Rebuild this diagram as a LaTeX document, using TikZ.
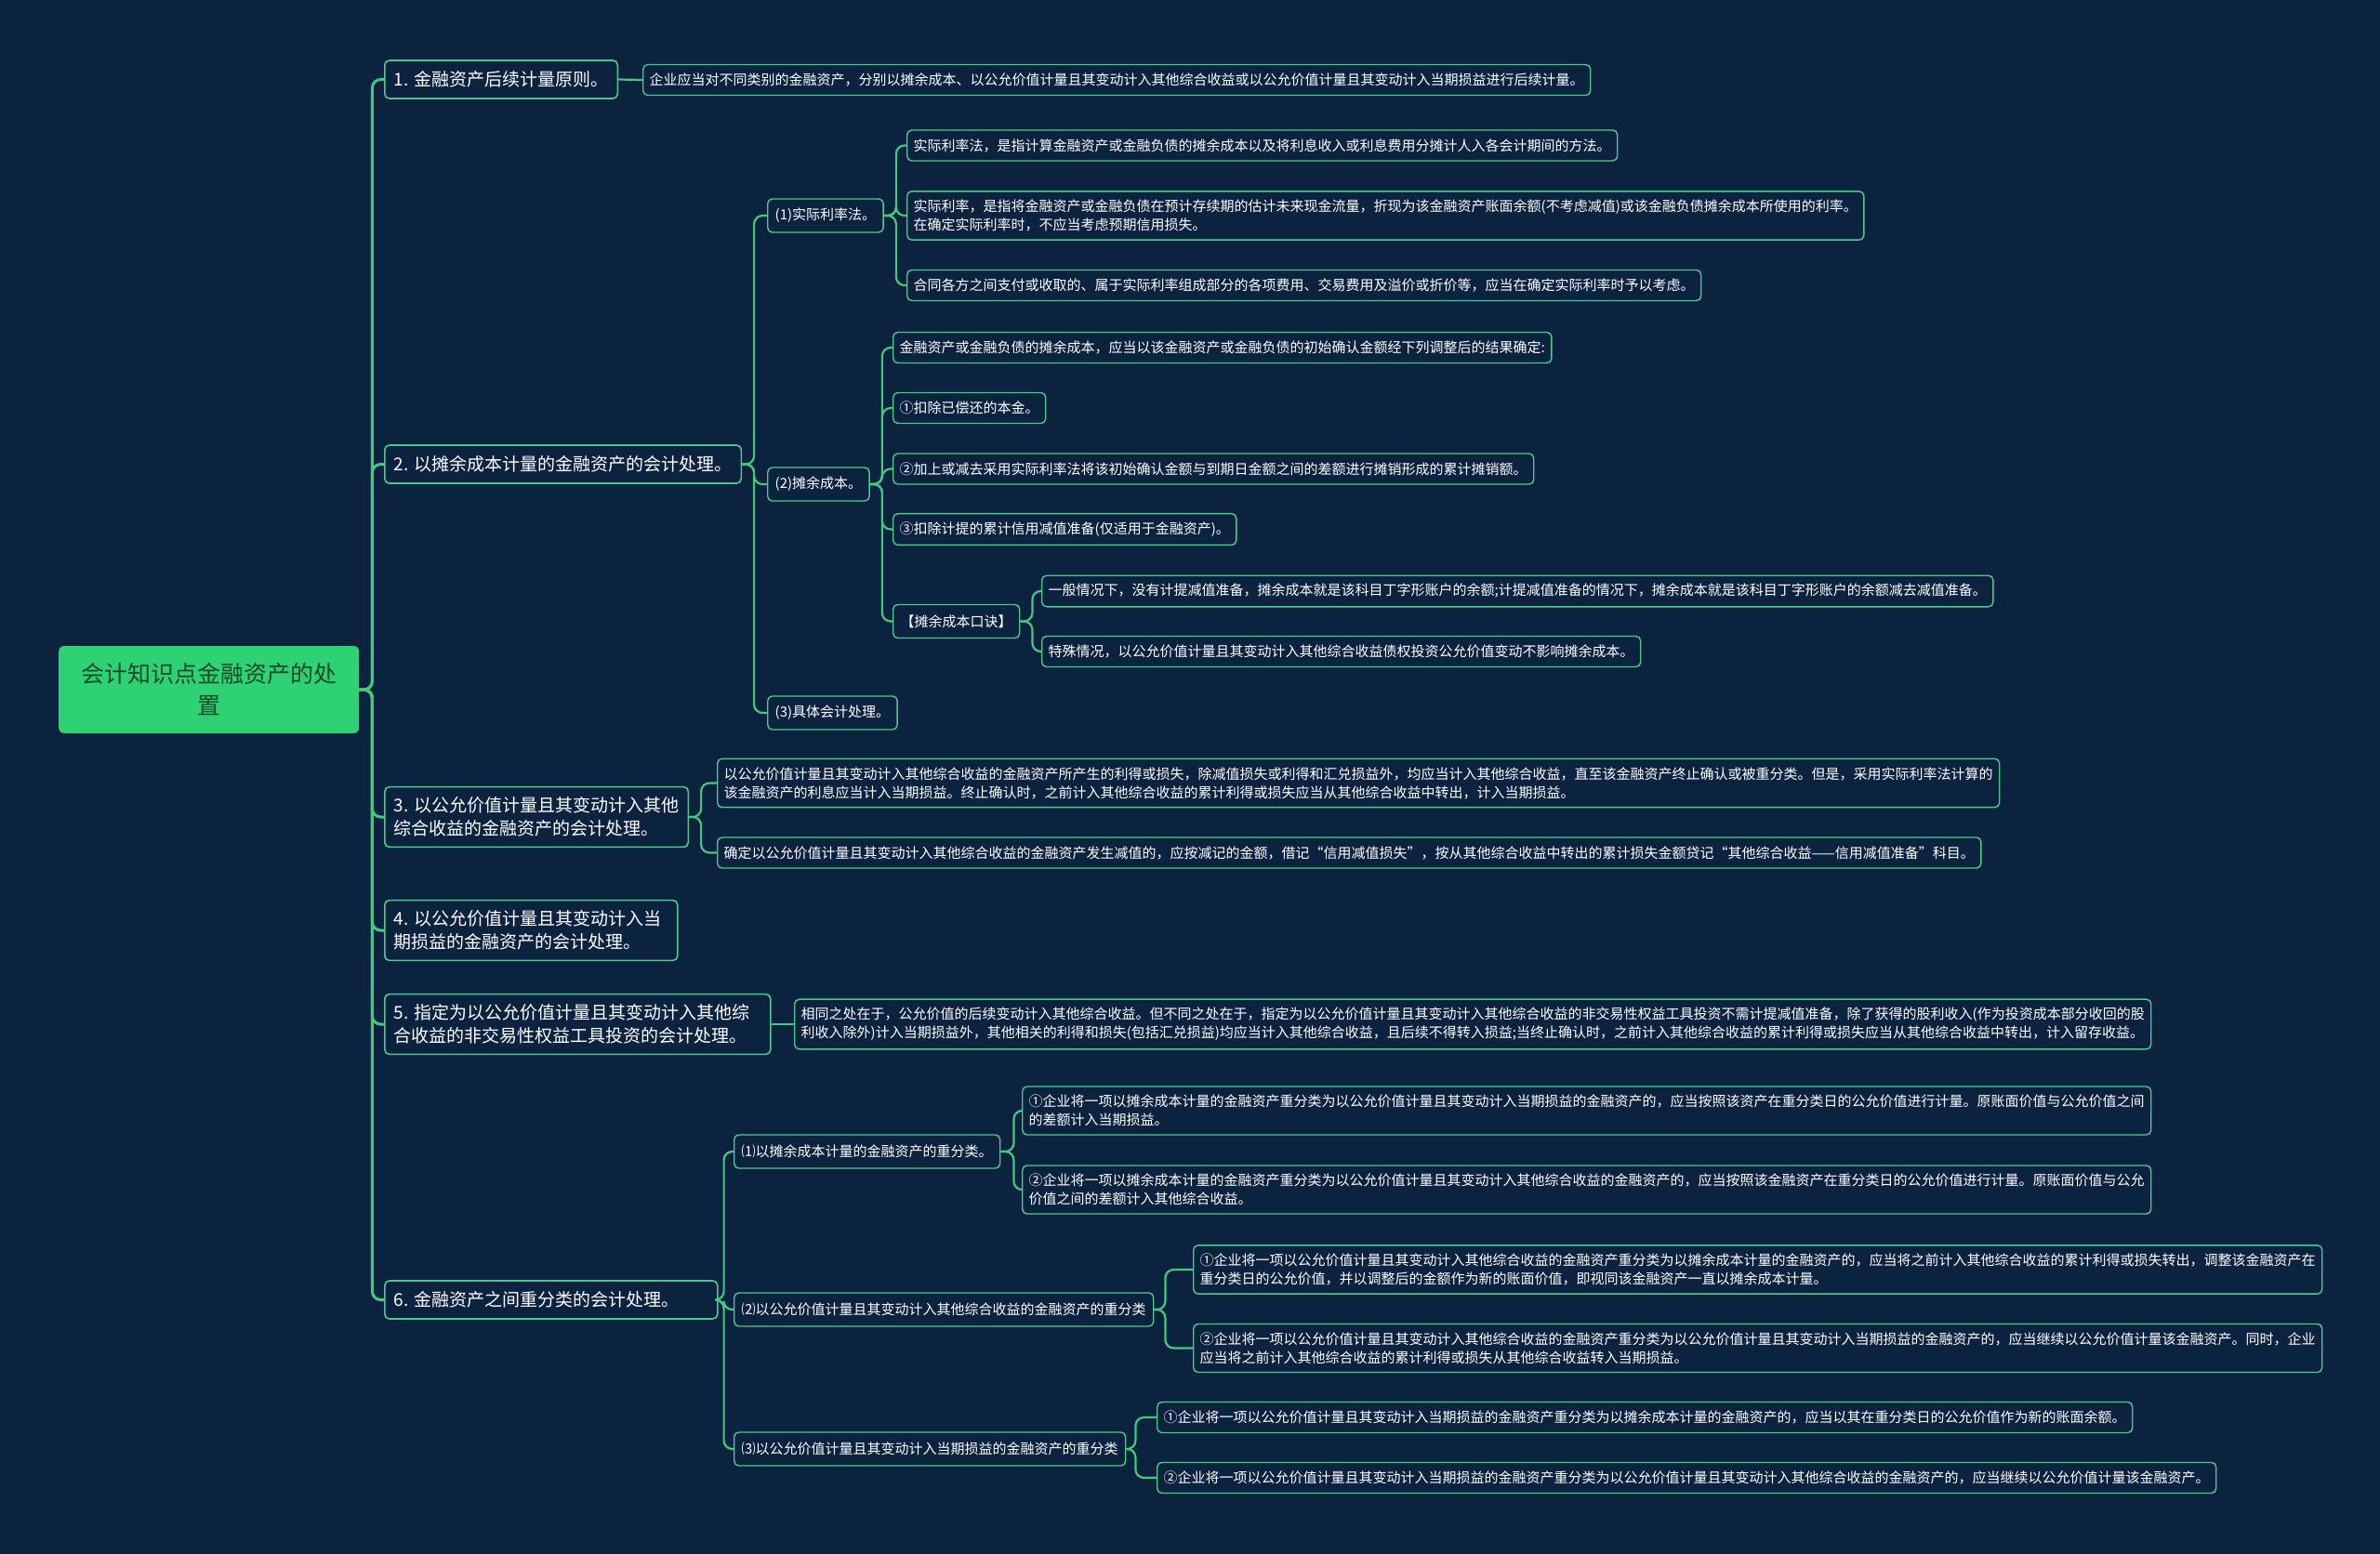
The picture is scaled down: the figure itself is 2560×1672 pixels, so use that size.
\documentclass[tikz,border=0pt]{standalone}
\usepackage{fontspec}
\setmainfont{Noto Sans CJK SC}
\usetikzlibrary{calc}
\definecolor{bg}{HTML}{0C2340}
\definecolor{edge}{HTML}{43C97C}
\definecolor{rootfill}{HTML}{2FD272}
\definecolor{roottext}{HTML}{1A4A2A}
\definecolor{boxline}{HTML}{4FC98A}
\tikzset{
 base/.style={draw=boxline, fill=bg, text=white, rounded corners=5, anchor=west, align=left},
 rootnode/.style={fill=rootfill, text=roottext, rounded corners=6, anchor=west, align=center, minimum width=323, minimum height=94, font=\fontsize{25}{34}\selectfont, inner sep=0},
 lvone/.style={base, line width=1.6, inner xsep=10, inner ysep=11, minimum height=41, font=\fontsize{19}{25}\selectfont},
 lvtwo/.style={base, line width=1.4, inner xsep=8, inner ysep=10, minimum height=36, font=\fontsize{15}{20}\selectfont},
 leaf/.style={base, line width=1.4, inner xsep=7, inner ysep=9, minimum height=33, font=\fontsize{15}{20}\selectfont},
 conn/.style={draw=edge, line width=2.2, rounded corners=9},
 trunk/.style={conn, line width=3},
}
\begin{document}
\begin{tikzpicture}[x=1pt, y=-1pt]
\useasboundingbox[fill=bg] (0,0) rectangle (2560,1672);
% root
\node[rootnode] (root) at (63,742) {会计知识点金融资产的处\\置};
% level 1
\node[lvone] (n1) at (413,85.5) {1. 金融资产后续计量原则。};
\node[lvone] (n2) at (413,499.5) {2. 以摊余成本计量的金融资产的会计处理。};
\node[lvone] (n3) at (413,879) {3. 以公允价值计量且其变动计入其他\\综合收益的金融资产的会计处理。};
\node[lvone, text width=295, align=flush left] (n4) at (413,1001) {4. 以公允价值计量且其变动计入当\\期损益的金融资产的会计处理。};
\node[lvone, text width=395, align=flush left] (n5) at (413,1102) {5. 指定为以公允价值计量且其变动计入其他综\\合收益的非交易性权益工具投资的会计处理。};
\node[lvone, text width=338, align=flush left] (n6) at (413,1398.5) {6. 金融资产之间重分类的会计处理。};
% node 1 leaf
\node[leaf] (l1) at (691,86) {企业应当对不同类别的金融资产，分别以摊余成本、以公允价值计量且其变动计入其他综合收益或以公允价值计量且其变动计入当期损益进行后续计量。};
% node 2 children
\node[lvtwo] (p1) at (825,232) {(1)实际利率法。};
\node[lvtwo] (p2) at (825,521) {(2)摊余成本。};
\node[lvtwo] (p3) at (825,767) {(3)具体会计处理。};
\node[leaf] (a1) at (975,156.5) {实际利率法，是指计算金融资产或金融负债的摊余成本以及将利息收入或利息费用分摊计人入各会计期间的方法。};
\node[leaf] (a2) at (975,232) {实际利率，是指将金融资产或金融负债在预计存续期的估计未来现金流量，折现为该金融资产账面余额(不考虑减值)或该金融负债摊余成本所使用的利率。\\在确定实际利率时，不应当考虑预期信用损失。};
\node[leaf] (a3) at (975,307) {合同各方之间支付或收取的、属于实际利率组成部分的各项费用、交易费用及溢价或折价等，应当在确定实际利率时予以考虑。};
\node[leaf] (b1) at (960,374) {金融资产或金融负债的摊余成本，应当以该金融资产或金融负债的初始确认金额经下列调整后的结果确定:};
\node[leaf] (b2) at (960,439) {①扣除已偿还的本金。};
\node[leaf] (b3) at (960,504.5) {②加上或减去采用实际利率法将该初始确认金额与到期日金额之间的差额进行摊销形成的累计摊销额。};
\node[leaf] (b4) at (960,569.5) {③扣除计提的累计信用减值准备(仅适用于金融资产)。};
\node[lvtwo] (b5) at (960,668.5) {【摊余成本口诀】};
\node[leaf] (c1) at (1120,636) {一般情况下，没有计提减值准备，摊余成本就是该科目丁字形账户的余额;计提减值准备的情况下，摊余成本就是该科目丁字形账户的余额减去减值准备。};
\node[leaf] (c2) at (1120,701) {特殊情况，以公允价值计量且其变动计入其他综合收益债权投资公允价值变动不影响摊余成本。};
% node 3 children
\node[leaf] (d1) at (771,842.5) {以公允价值计量且其变动计入其他综合收益的金融资产所产生的利得或损失，除减值损失或利得和汇兑损益外，均应当计入其他综合收益，直至该金融资产终止确认或被重分类。但是，采用实际利率法计算的\\该金融资产的利息应当计入当期损益。终止确认时，之前计入其他综合收益的累计利得或损失应当从其他综合收益中转出，计入当期损益。};
\node[leaf] (d2) at (771,917.5) {确定以公允价值计量且其变动计入其他综合收益的金融资产发生减值的，应按减记的金额，借记“信用减值损失”，按从其他综合收益中转出的累计损失金额贷记“其他综合收益——信用减值准备”科目。};
% node 5 child
\node[leaf] (e1) at (854,1102) {相同之处在于，公允价值的后续变动计入其他综合收益。但不同之处在于，指定为以公允价值计量且其变动计入其他综合收益的非交易性权益工具投资不需计提减值准备，除了获得的股利收入(作为投资成本部分收回的股\\利收入除外)计入当期损益外，其他相关的利得和损失(包括汇兑损益)均应当计入其他综合收益，且后续不得转入损益;当终止确认时，之前计入其他综合收益的累计利得或损失应当从其他综合收益中转出，计入留存收益。};
% node 6 children
\node[lvtwo] (f1) at (789,1239) {⑴以摊余成本计量的金融资产的重分类。};
\node[lvtwo] (f2) at (789,1409) {⑵以公允价值计量且其变动计入其他综合收益的金融资产的重分类};
\node[lvtwo] (f3) at (789,1559) {⑶以公允价值计量且其变动计入当期损益的金融资产的重分类};
\node[leaf] (g1) at (1099,1195) {①企业将一项以摊余成本计量的金融资产重分类为以公允价值计量且其变动计入当期损益的金融资产的，应当按照该资产在重分类日的公允价值进行计量。原账面价值与公允价值之间\\的差额计入当期损益。};
\node[leaf] (g2) at (1099,1280) {②企业将一项以摊余成本计量的金融资产重分类为以公允价值计量且其变动计入其他综合收益的金融资产的，应当按照该金融资产在重分类日的公允价值进行计量。原账面价值与公允\\价值之间的差额计入其他综合收益。};
\node[leaf] (h1) at (1283,1366) {①企业将一项以公允价值计量且其变动计入其他综合收益的金融资产重分类为以摊余成本计量的金融资产的，应当将之前计入其他综合收益的累计利得或损失转出，调整该金融资产在\\重分类日的公允价值，并以调整后的金额作为新的账面价值，即视同该金融资产一直以摊余成本计量。};
\node[leaf] (h2) at (1283,1450.5) {②企业将一项以公允价值计量且其变动计入其他综合收益的金融资产重分类为以公允价值计量且其变动计入当期损益的金融资产的，应当继续以公允价值计量该金融资产。同时，企业\\应当将之前计入其他综合收益的累计利得或损失从其他综合收益转入当期损益。};
\node[leaf] (i1) at (1244,1525) {①企业将一项以公允价值计量且其变动计入当期损益的金融资产重分类为以摊余成本计量的金融资产的，应当以其在重分类日的公允价值作为新的账面余额。};
\node[leaf] (i2) at (1244,1590) {②企业将一项以公允价值计量且其变动计入当期损益的金融资产重分类为以公允价值计量且其变动计入其他综合收益的金融资产的，应当继续以公允价值计量该金融资产。};
% connectors
\foreach \c in {n1,n2,n3,n4,n5,n6} \draw[trunk] (root.east) -- ++(14,0) |- (\c.west);
\draw[conn] (n1.east) -- (l1.west);
\foreach \c in {p1,p2,p3} \draw[conn] (n2.east) -- ++(13,0) |- (\c.west);
\foreach \c in {a1,a2,a3} \draw[conn] (p1.east) -- ++(13,0) |- (\c.west);
\foreach \c in {b1,b2,b3,b4,b5} \draw[conn] (p2.east) -- ++(13,0) |- (\c.west);
\foreach \c in {c1,c2} \draw[conn] (b5.east) -- ++(13,0) |- (\c.west);
\foreach \c in {d1,d2} \draw[conn] (n3.east) -- ++(13,0) |- (\c.west);
\draw[conn] (n5.east) -- (e1.west);
\foreach \c in {f1,f2,f3} \draw[conn] (n6.east) -- ++(6,0) |- (\c.west);
\foreach \c in {g1,g2} \draw[conn] (f1.east) -- ++(14,0) |- (\c.west);
\foreach \c in {h1,h2} \draw[conn] (f2.east) -- ++(12,0) |- (\c.west);
\foreach \c in {i1,i2} \draw[conn] (f3.east) -- ++(10,0) |- (\c.west);
\end{tikzpicture}
\end{document}
